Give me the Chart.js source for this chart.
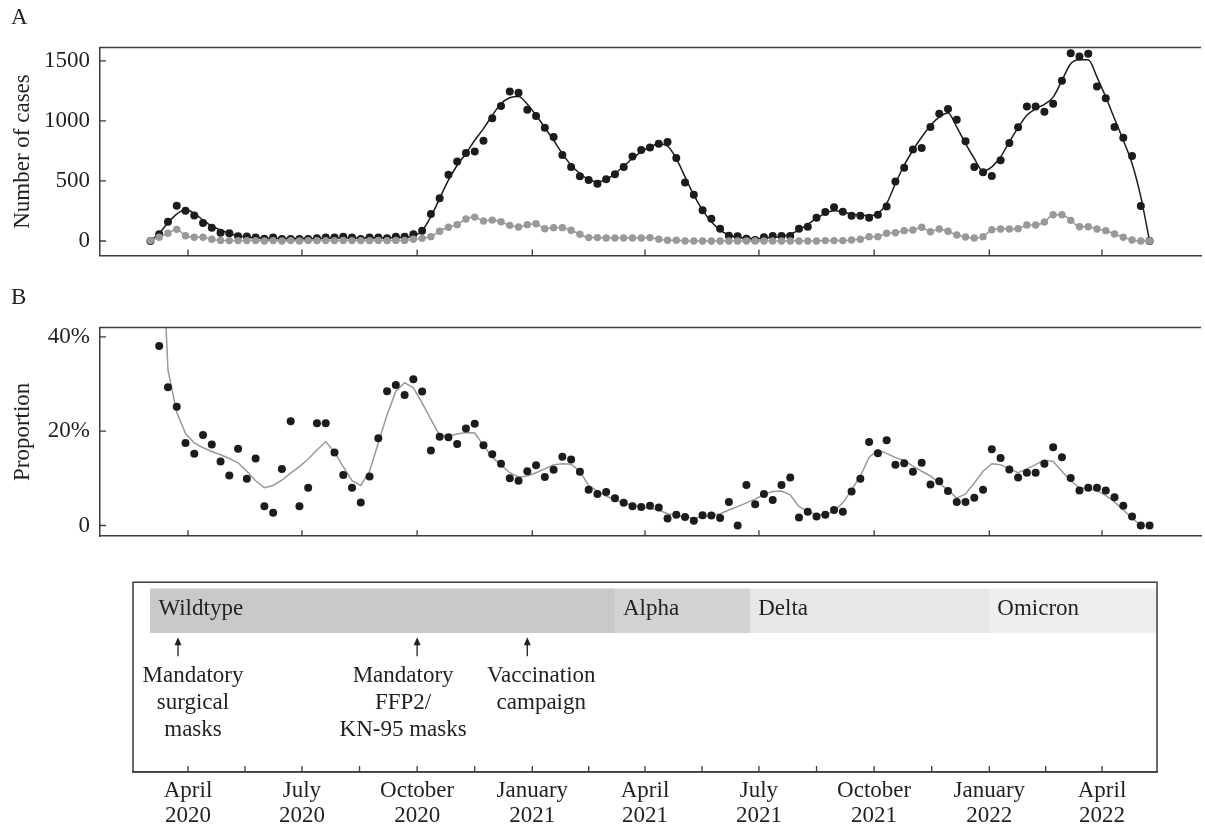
<!DOCTYPE html>
<html>
<head>
<meta charset="utf-8">
<script src="https://cdn.jsdelivr.net/npm/chart.js@4.4.1/dist/chart.umd.min.js"></script>
<style>
  html, body { margin: 0; padding: 0; background: #fff; }
  #wrap { position: relative; width: 1205px; height: 832px; }
  .panel { position: absolute; left: 0; width: 1205px; }
</style>
</head>
<body>
<div id="wrap">
  <div class="panel" style="top:0;height:280px"><canvas id="chartA"></canvas></div>
  <div class="panel" style="top:280px;height:280px"><canvas id="chartB"></canvas></div>
  <div class="panel" style="top:560px;height:272px"><canvas id="chartC"></canvas></div>
</div>
<script>
// Datos semanales (primera semana: 2 de marzo de 2020)
const weekStart = '2020-03-02';

const casesAll = [
  0, 56, 160, 293, 252, 213, 150, 111, 69, 64,
  39, 37, 30, 19, 30, 17, 17, 17, 17, 22,
  28, 30, 36, 30, 17, 28, 30, 22, 36, 36,
  56, 86, 224, 357, 551, 662, 734, 745, 836, 1022,
  1124, 1246, 1235, 1094, 1041, 944, 866, 717, 617, 540,
  509, 476, 515, 556, 617, 703, 758, 778, 811, 825,
  692, 487, 385, 257, 185, 102, 44, 39, 19, 8,
  31, 42, 42, 42, 102, 119, 194, 241, 282, 243,
  210, 210, 194, 218, 288, 496, 611, 763, 775, 949,
  1061, 1099, 1011, 831, 617, 573, 542, 673, 816, 947,
  1121, 1121, 1077, 1144, 1335, 1564, 1537, 1559, 1287, 1190,
  949, 861, 709, 291, 0
];

const casesAllTrend = [
  0, 64, 152, 224, 263, 230, 174, 125, 91, 64,
  44, 33, 26, 22, 21, 20, 20, 20, 20, 21,
  22, 24, 25, 25, 24, 24, 25, 26, 28, 30,
  40, 86, 202, 355, 507, 631, 728, 839, 936, 1047,
  1144, 1193, 1204, 1140, 1047, 944, 839, 728, 631, 562,
  512, 493, 512, 562, 623, 687, 742, 783, 808, 790,
  687, 534, 382, 257, 160, 91, 50, 31, 22, 18,
  22, 31, 36, 58, 91, 139, 188, 230, 252, 243,
  224, 216, 210, 230, 313, 479, 631, 756, 866, 963,
  1032, 1066, 949, 811, 687, 581, 617, 700, 825, 944,
  1047, 1102, 1138, 1199, 1337, 1476, 1509, 1509, 1365, 1199,
  1019, 839, 645, 368, 0
];

const casesSub = [
  3, 31, 64, 97, 44, 31, 31, 14, 5, 3,
  3, 3, 3, 0, 3, 0, 3, 0, 3, 3,
  3, 3, 5, 3, 3, 3, 5, 3, 5, 5,
  14, 22, 36, 81, 114, 136, 183, 199, 166, 174,
  160, 130, 116, 136, 144, 102, 111, 111, 89, 56,
  28, 28, 25, 25, 25, 25, 25, 28, 14, 6,
  6, 0, 0, 0, 0, 0, 0, 0, 0, 0,
  0, 0, 0, 0, 0, 0, 0, 3, 3, 3,
  8, 14, 36, 36, 64, 69, 86, 91, 114, 77,
  100, 81, 50, 33, 25, 36, 94, 100, 100, 102,
  133, 133, 158, 218, 218, 172, 119, 119, 100, 86,
  58, 31, 8, 0, 0
];

const proportion = [
  null, 38.1, 29.3, 25.2, 17.5, 15.2, 19.2, 17.2, 13.6, 10.6,
  16.3, 9.9, 14.2, 4.1, 2.7, 12.0, 22.1, 4.1, 8.0, 21.7,
  21.7, 15.5, 10.7, 8.0, 4.9, 10.4, 18.5, 28.5, 29.8, 27.7,
  31.0, 28.4, 15.9, 18.8, 18.7, 17.3, 20.6, 21.6, 17.0, 15.1,
  13.1, 10.0, 9.5, 11.5, 12.8, 10.3, 11.8, 14.6, 14.0, 11.4,
  7.6, 6.7, 7.1, 5.8, 4.8, 4.1, 3.9, 4.2, 3.8, 1.5,
  2.3, 1.8, 1.0, 2.2, 2.1, 1.6, 5.0, 0.0, 8.6, 4.5,
  6.7, 5.4, 8.6, 10.2, 1.7, 2.9, 1.9, 2.3, 3.3, 2.9,
  7.2, 9.9, 17.7, 15.3, 18.1, 12.9, 13.2, 11.4, 13.3, 8.7,
  9.4, 7.3, 5.0, 5.0, 5.9, 7.6, 16.2, 14.3, 11.9, 10.2,
  11.2, 11.2, 13.1, 16.6, 14.5, 10.1, 7.4, 8.0, 8.0, 7.4,
  6.0, 4.2, 1.9, 0.0, 0.0
];

const proportionTrend = [
  null, 75, 33, 24, 19.5, 17.5, 16.5, 15.7, 15.0, 14.2,
  13.3, 11.5, 9.5, 8.0, 8.5, 9.6, 11.1, 12.5, 14.1, 16.0,
  17.8, 15.5, 12.5, 9.5, 8.5, 11.5, 17.5, 23.5, 28.5, 30.3,
  29.2, 26.0, 22.5, 19.1, 19.0, 19.4, 19.7, 19.6, 17.0, 14.5,
  12.8, 11.2, 10.3, 10.5, 11.2, 12.0, 12.9, 13.1, 13.0, 11.5,
  8.5, 7.3, 6.2, 5.5, 4.8, 4.3, 4.0, 3.6, 3.3, 2.5,
  2.1, 1.8, 1.6, 1.8, 2.1, 2.5, 3.3, 4.0, 4.8, 5.6,
  6.6, 7.2, 7.3, 6.5, 4.0, 3.0, 2.3, 2.3, 3.0, 4.8,
  7.5, 10.5, 14.5, 16.0, 15.3, 14.4, 13.8, 12.6, 11.5, 10.5,
  9.0, 7.5, 5.8, 6.7, 9.0, 11.5, 13.1, 12.9, 12.0, 11.2,
  12.0, 12.9, 13.9, 13.6, 11.5, 9.5, 8.0, 7.8, 7.4, 6.4,
  5.0, 3.3, 1.6, 0.0, null
];

const quarterDates = ['2020-04-01', '2020-07-01', '2020-10-01', '2021-01-01', '2021-04-01',
                      '2021-07-01', '2021-10-01', '2022-01-01', '2022-04-01'];
const quarterLabels = [['April', '2020'], ['July', '2020'], ['October', '2020'], ['January', '2021'],
                       ['April', '2021'], ['July', '2021'], ['October', '2021'], ['January', '2022'],
                       ['April', '2022']];
const casesTicks = [0, 500, 1000, 1500];
const proportionTicks = [0, 20, 40];

const variantNames = ['Wildtype', 'Alpha', 'Delta', 'Omicron'];
const variantStart = ['2020-03-02', '2021-03-08', '2021-06-24', '2022-01-01'];
const variantEnd = ['2021-03-08', '2021-06-24', '2022-01-01', '2022-05-15'];

const eventDates = ['2020-03-24', '2020-10-01', '2020-12-28'];
const eventLabels = [['Mandatory', 'surgical', 'masks'], ['Mandatory', 'FFP2/', 'KN-95 masks'], ['Vaccination', 'campaign']];

// Colores
const BLACK = '#1c1c1c';
const GREY = '#999999';
const AXIS = '#3c3c3c';
const TEXT = '#231f20';
const VARIANT_COLORS = ['#c8c9cb', '#d2d3d5', '#e6e7e8', '#efeff0'];
const FONT = "'Liberation Serif', 'Times New Roman', serif";

// Días desde el 1 de enero de 2020
const DAY0 = Date.UTC(2020, 0, 1);
function dayOf(s) {
  const [y, m, d] = s.split('-').map(Number);
  return (Date.UTC(y, m - 1, d) - DAY0) / 86400000;
}
const week0 = dayOf(weekStart);
const weekX = casesAll.map((_, i) => week0 + 7 * i);
const pts = arr => arr.map((v, i) => ({ x: weekX[i], y: v }));
const quarterDays = quarterDates.map(dayOf);
const halfDays = quarterDays.slice(1).map((d, i) => (d + quarterDays[i]) / 2);
const bottomTicks = quarterDays.concat(halfDays).sort((a, b) => a - b);

Chart.defaults.font.family = FONT;
Chart.defaults.font.size = 23;
Chart.defaults.color = TEXT;
Chart.defaults.animation = false;
Chart.defaults.plugins.legend.display = false;
Chart.defaults.plugins.tooltip.enabled = false;

// Marcas hacia dentro, línea superior y caja
const frame = {
  id: 'frame',
  afterDatasetsDraw(chart, args, opts) {
    const { ctx, chartArea: a, scales } = chart;
    ctx.save();
    ctx.strokeStyle = AXIS;
    ctx.lineWidth = 1.3;
    ctx.beginPath();
    scales.x.ticks.forEach(t => {
      const p = scales.x.getPixelForValue(t.value);
      ctx.moveTo(p, a.bottom);
      ctx.lineTo(p, a.bottom - opts.tick);
    });
    if (scales.y.options.display) {
      scales.y.ticks.forEach(t => {
        const p = scales.y.getPixelForValue(t.value);
        ctx.moveTo(a.left, p);
        ctx.lineTo(a.left + opts.tick, p);
      });
    }
    ctx.stroke();
    ctx.lineWidth = 1.5;
    ctx.beginPath();
    if (opts.box) {
      ctx.rect(a.left, a.top, a.right - a.left, a.bottom - a.top);
    } else {
      ctx.moveTo(a.left, a.top);
      ctx.lineTo(a.right, a.top);
    }
    ctx.stroke();
    ctx.restore();
  }
};

// Nombres de variantes, flechas y textos de eventos
const notes = {
  id: 'notes',
  afterDatasetsDraw(chart, args, opts) {
    const { ctx, chartArea: a, scales: { x } } = chart;
    const bars = chart.getDatasetMeta(0).data;
    ctx.save();
    ctx.font = '23px ' + FONT;
    ctx.fillStyle = TEXT;
    ctx.strokeStyle = TEXT;
    ctx.textBaseline = 'middle';
    ctx.textAlign = 'left';
    bars.forEach((bar, i) => {
      ctx.fillText(variantNames[i], Math.min(bar.x, bar.base) + 8, bar.y - 2);
    });
    ctx.textAlign = 'center';
    ctx.lineWidth = 1.3;
    eventDates.forEach((d, i) => {
      const px = x.getPixelForValue(dayOf(d));
      ctx.beginPath();
      ctx.moveTo(px, a.top + 61);
      ctx.lineTo(px, a.top + 74);
      ctx.stroke();
      ctx.beginPath();
      ctx.moveTo(px, a.top + 55);
      ctx.lineTo(px - 3.5, a.top + 63);
      ctx.lineTo(px + 3.5, a.top + 63);
      ctx.closePath();
      ctx.fill();
      eventLabels[i].forEach((line, j) => {
        ctx.fillText(line, px + opts.offsets[i], a.top + 94 + j * 27);
      });
    });
    ctx.restore();
  }
};

function panelOptions(letter, yTitle, yMin, yMax, yTicks, fmt, padBottom) {
  return {
    responsive: true,
    maintainAspectRatio: false,
    layout: { padding: { left: 11, right: 4, top: 0, bottom: padBottom } },
    plugins: {
      title: {
        display: true, text: letter, align: 'start', color: TEXT,
        font: { size: 23, weight: 'normal', lineHeight: 1.1 },
        padding: { top: 5, bottom: 17.2 }
      },
      frame: { tick: 6 }
    },
    scales: {
      x: {
        type: 'linear', min: 20.72, max: 900.07,
        afterBuildTicks: s => { s.ticks = quarterDays.map(v => ({ value: v })); },
        ticks: { display: false },
        grid: { display: false, drawTicks: false },
        border: { color: AXIS, width: 1.5 },
        afterFit: s => { s.height = 0; }
      },
      y: {
        min: yMin, max: yMax,
        afterBuildTicks: s => { s.ticks = yTicks.map(v => ({ value: v })); },
        ticks: { padding: 10, callback: fmt },
        grid: { display: false, drawTicks: false },
        border: { color: AXIS, width: 1.5 },
        title: { display: true, text: yTitle, padding: 0, font: { size: 23, lineHeight: 1 } },
        afterFit: s => { s.width = 89; }
      }
    }
  };
}

// Panel A: número de casos
new Chart(document.getElementById('chartA'), {
  type: 'line',
  data: {
    datasets: [
      { data: pts(casesSub), borderColor: GREY, backgroundColor: GREY, borderWidth: 1.5,
        pointRadius: 3.7, pointBorderWidth: 0, cubicInterpolationMode: 'monotone' },
      { data: pts(casesAllTrend), borderColor: BLACK, borderWidth: 1.5, pointRadius: 0,
        cubicInterpolationMode: 'monotone' },
      { data: pts(casesAll), showLine: false, backgroundColor: BLACK, borderColor: BLACK,
        pointRadius: 4, pointBorderWidth: 0 }
    ]
  },
  options: panelOptions('A', 'Number of cases', -121, 1612, casesTicks, v => String(v), 24.5),
  plugins: [frame]
});

// Panel B: proporción
new Chart(document.getElementById('chartB'), {
  type: 'line',
  data: {
    datasets: [
      { data: pts(proportion), showLine: false, backgroundColor: BLACK, borderColor: BLACK,
        pointRadius: 4, pointBorderWidth: 0 },
      { data: pts(proportionTrend), borderColor: GREY, borderWidth: 1.5, pointRadius: 0, tension: 0 }
    ]
  },
  options: panelOptions('B', 'Proportion', -2.27, 42, proportionTicks, v => (v === 0 ? '0' : v + '%'), 17.7),
  plugins: [frame]
});

// Panel inferior: variantes y medidas
new Chart(document.getElementById('chartC'), {
  type: 'bar',
  data: {
    datasets: [{
      data: variantStart.map((s, i) => ({ x: [dayOf(s), dayOf(variantEnd[i])], y: 0.15 })),
      backgroundColor: VARIANT_COLORS,
      borderWidth: 0,
      barThickness: 44
    }]
  },
  options: {
    responsive: true,
    maintainAspectRatio: false,
    indexAxis: 'y',
    layout: { padding: { left: 133, right: 48, top: 22.3, bottom: 0 } },
    plugins: {
      frame: { tick: 6, box: true },
      notes: { offsets: [15, -14, 14] }
    },
    scales: {
      x: {
        type: 'linear', min: 47.07, max: 864.93,
        afterBuildTicks: s => { s.ticks = bottomTicks.map(v => ({ value: v })); },
        ticks: {
          autoSkip: false, maxRotation: 0, padding: 6,
          font: { size: 23, lineHeight: 1.1 },
          callback: v => {
            const k = quarterDays.indexOf(v);
            return k >= 0 ? quarterLabels[k] : '';
          }
        },
        grid: { display: false, drawTicks: false },
        border: { color: AXIS, width: 1.5 },
        afterFit: s => { s.height = 60; }
      },
      y: { type: 'linear', min: 0, max: 1, reverse: true, offset: false, display: false }
    }
  },
  plugins: [frame, notes]
});
</script>
</body>
</html>
